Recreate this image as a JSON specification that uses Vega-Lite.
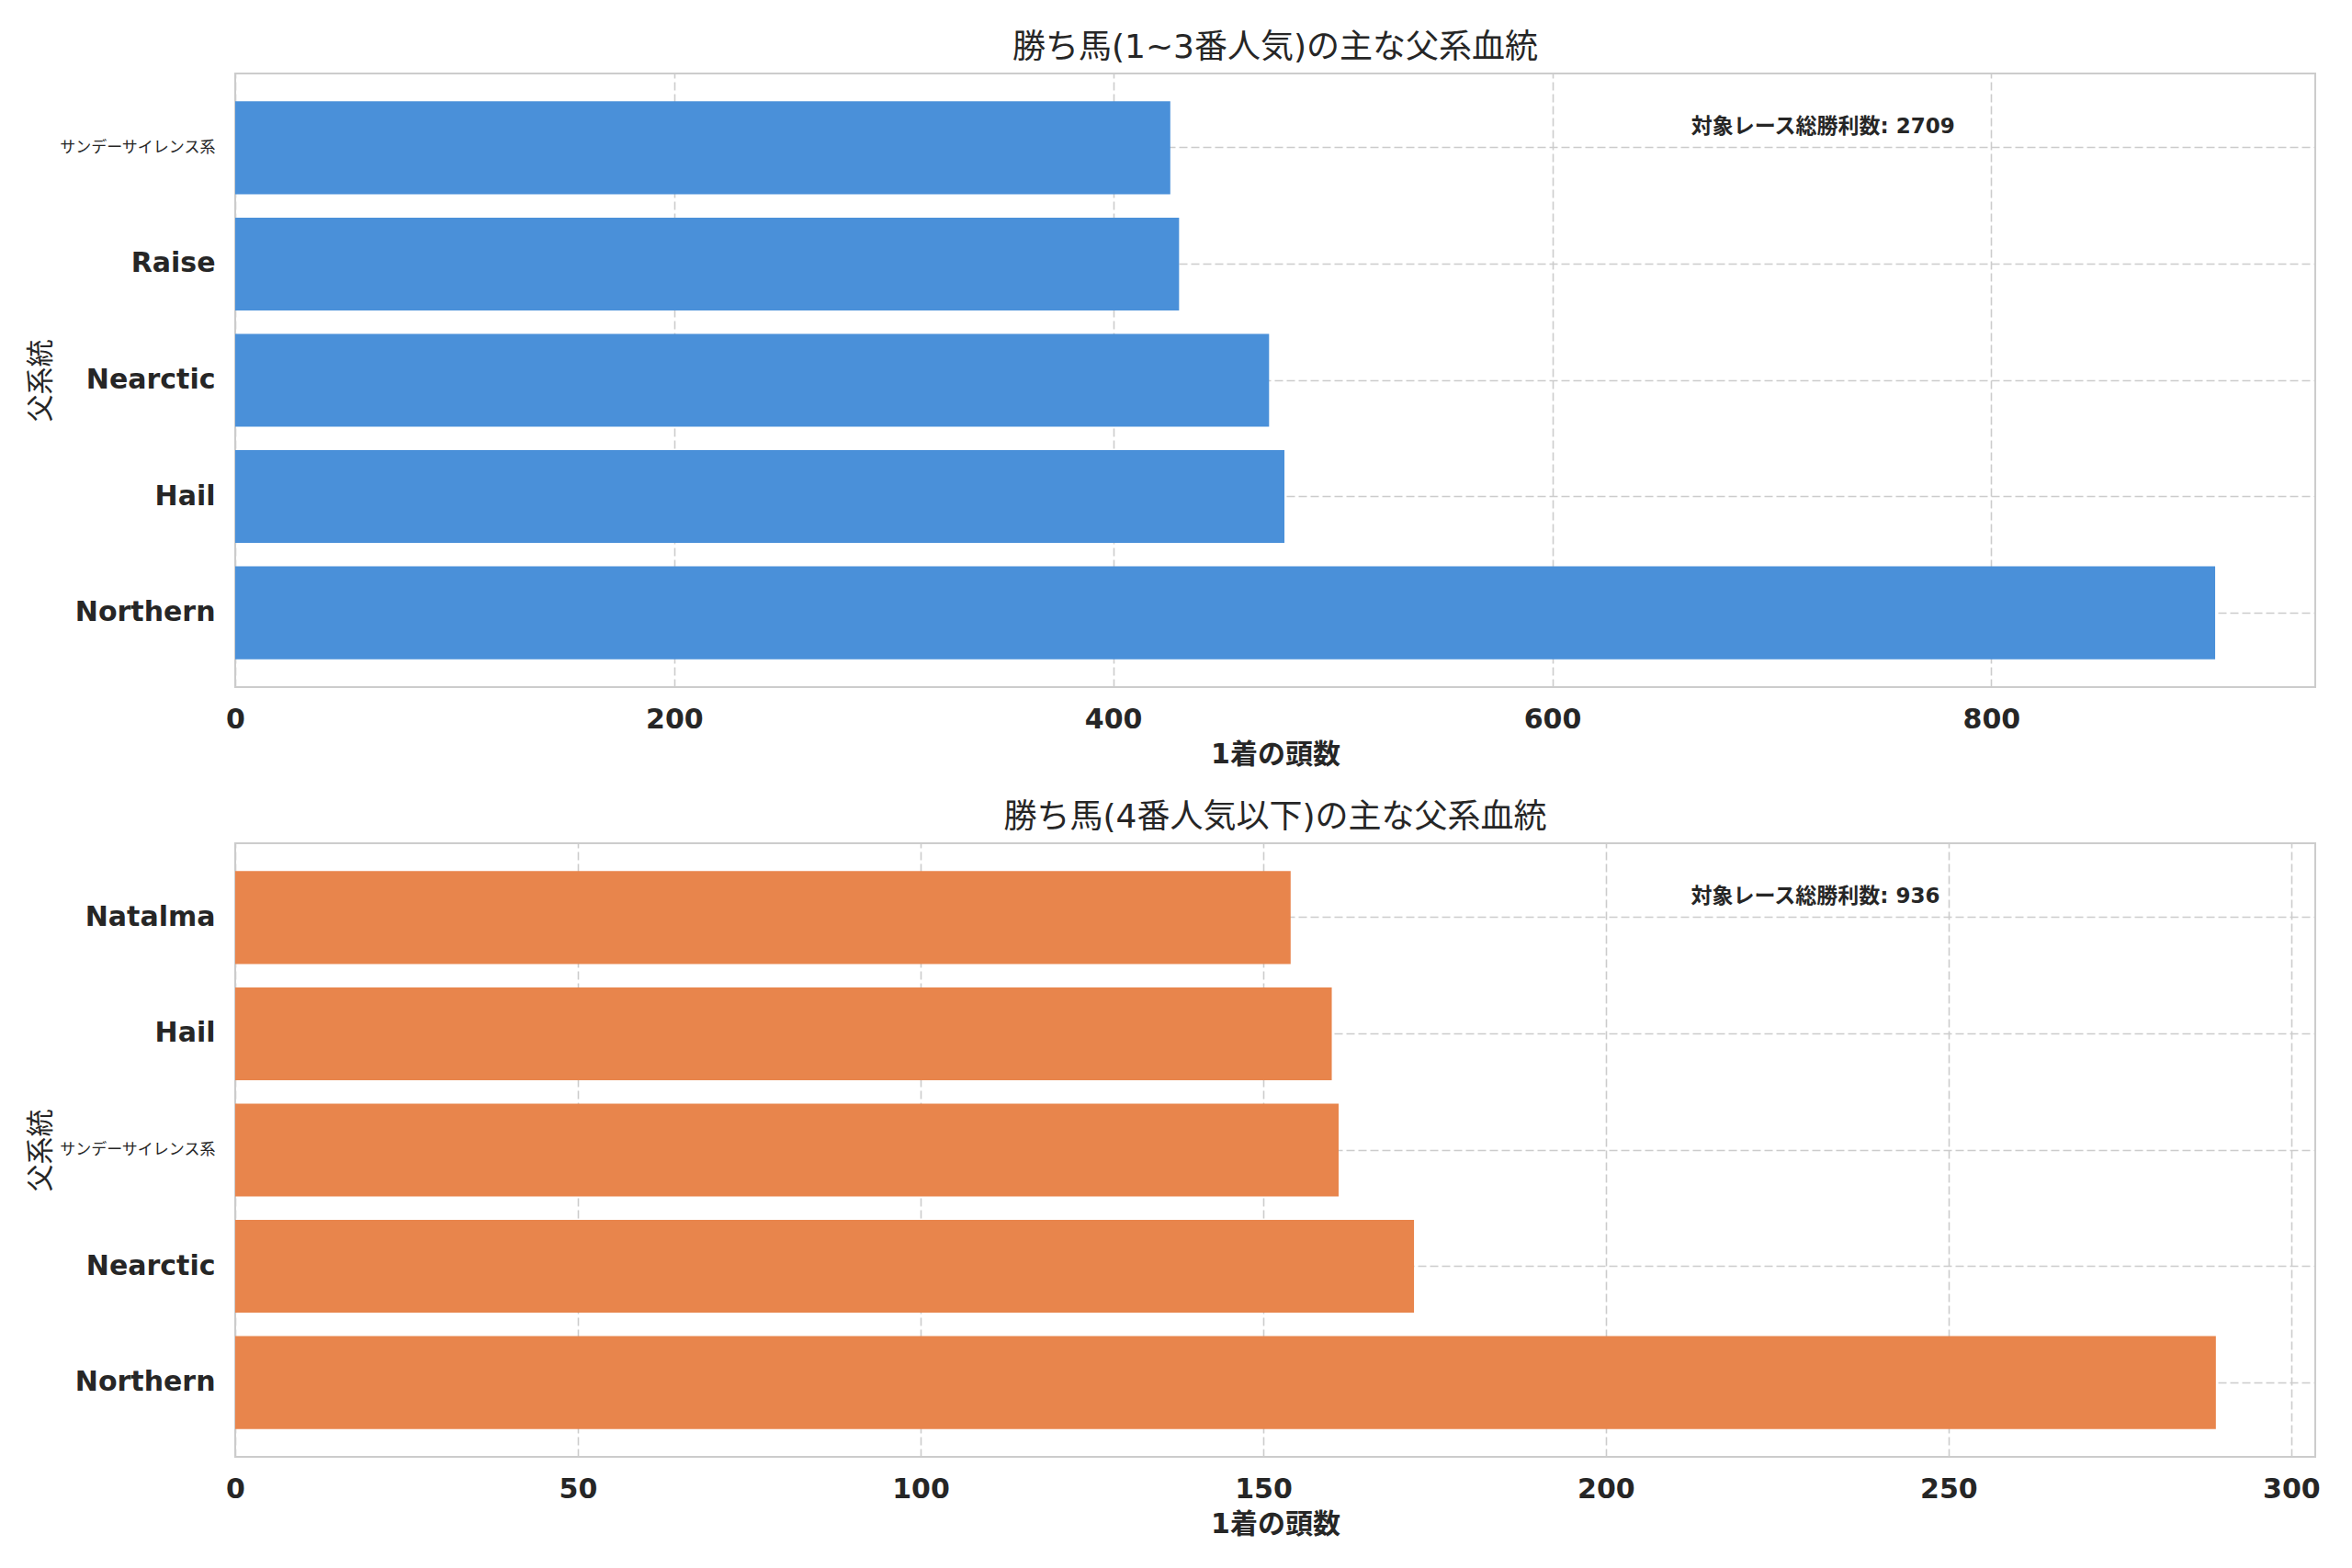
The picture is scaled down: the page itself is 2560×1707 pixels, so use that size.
{
  "$schema": "https://vega.github.io/schema/vega-lite/v6.json",
  "background": "white",
  "padding": {"left": 28, "top": 33, "right": 20, "bottom": 10},
  "spacing": 34,
  "config": {
    "font": "DejaVu Sans, Noto Sans CJK JP, sans-serif",
    "view": {"stroke": "#cccccc", "strokeWidth": 2},
    "axis": {
      "grid": true,
      "gridColor": "#cccccc",
      "gridDash": [9, 4],
      "gridWidth": 1.6,
      "domain": false,
      "ticks": false,
      "labelFlush": false,
      "labelFontSize": 30,
      "labelFontWeight": "bold",
      "labelColor": "#262626",
      "titleFontSize": 30,
      "titleFontWeight": "bold",
      "titleColor": "#262626"
    },
    "title": {"fontSize": 36, "fontWeight": "normal", "color": "#262626", "offset": 9}
  },
  "vconcat": [
    {
      "title": "勝ち馬(1~3番人気)の主な父系血統",
      "width": 2264,
      "height": 668,
      "data": {
        "values": [
          {"route": "サンデーサイレンス系", "wins": 426},
          {"route": "Raise", "wins": 430},
          {"route": "Nearctic", "wins": 471},
          {"route": "Hail", "wins": 478},
          {"route": "Northern", "wins": 902}
        ]
      },
      "layer": [
        {
          "mark": {"type": "bar", "color": "#4a90d9"},
          "encoding": {
            "y": {
              "field": "route", "type": "nominal",
              "sort": ["サンデーサイレンス系", "Raise", "Nearctic", "Hail", "Northern"],
              "scale": {"paddingInner": 0.2, "paddingOuter": 0.24},
              "axis": {
                "title": "父系統", "titleFontWeight": "normal", "labelPadding": 22, "titlePadding": 5,
                "labelFontSize": {"condition": {"test": "datum.value == 'サンデーサイレンス系'", "value": 17}, "value": 30},
                "labelFontWeight": {"condition": {"test": "datum.value == 'サンデーサイレンス系'", "value": "normal"}, "value": "bold"}
              }
            },
            "x": {
              "field": "wins", "type": "quantitative",
              "scale": {"domain": [0, 947.6], "nice": false},
              "axis": {"title": "1着の頭数", "values": [0, 200, 400, 600, 800], "labelPadding": 20, "titlePadding": 8}
            }
          }
        },
        {
          "data": {"values": [{"route": "サンデーサイレンス系", "wins": 663.3, "label": "対象レース総勝利数: 2709"}]},
          "mark": {"type": "text", "align": "left", "baseline": "middle", "dy": -23, "fontSize": 23, "fontWeight": "bold", "color": "#262626"},
          "encoding": {
            "y": {"field": "route", "type": "nominal", "sort": ["サンデーサイレンス系", "Raise", "Nearctic", "Hail", "Northern"]},
            "x": {"field": "wins", "type": "quantitative"},
            "text": {"field": "label"}
          }
        }
      ]
    },
    {
      "title": "勝ち馬(4番人気以下)の主な父系血統",
      "width": 2264,
      "height": 668,
      "data": {
        "values": [
          {"route": "Natalma", "wins": 154},
          {"route": "Hail", "wins": 160},
          {"route": "サンデーサイレンス系", "wins": 161},
          {"route": "Nearctic", "wins": 172},
          {"route": "Northern", "wins": 289}
        ]
      },
      "layer": [
        {
          "mark": {"type": "bar", "color": "#e8854c"},
          "encoding": {
            "y": {
              "field": "route", "type": "nominal",
              "sort": ["Natalma", "Hail", "サンデーサイレンス系", "Nearctic", "Northern"],
              "scale": {"paddingInner": 0.2, "paddingOuter": 0.24},
              "axis": {
                "title": "父系統", "titleFontWeight": "normal", "labelPadding": 22, "titlePadding": 5,
                "labelFontSize": {"condition": {"test": "datum.value == 'サンデーサイレンス系'", "value": 17}, "value": 30},
                "labelFontWeight": {"condition": {"test": "datum.value == 'サンデーサイレンス系'", "value": "normal"}, "value": "bold"}
              }
            },
            "x": {
              "field": "wins", "type": "quantitative",
              "scale": {"domain": [0, 303.5], "nice": false},
              "axis": {"title": "1着の頭数", "values": [0, 50, 100, 150, 200, 250, 300], "labelPadding": 20, "titlePadding": 8}
            }
          }
        },
        {
          "data": {"values": [{"route": "Natalma", "wins": 212.4, "label": "対象レース総勝利数: 936"}]},
          "mark": {"type": "text", "align": "left", "baseline": "middle", "dy": -23, "fontSize": 23, "fontWeight": "bold", "color": "#262626"},
          "encoding": {
            "y": {"field": "route", "type": "nominal", "sort": ["Natalma", "Hail", "サンデーサイレンス系", "Nearctic", "Northern"]},
            "x": {"field": "wins", "type": "quantitative"},
            "text": {"field": "label"}
          }
        }
      ]
    }
  ]
}
